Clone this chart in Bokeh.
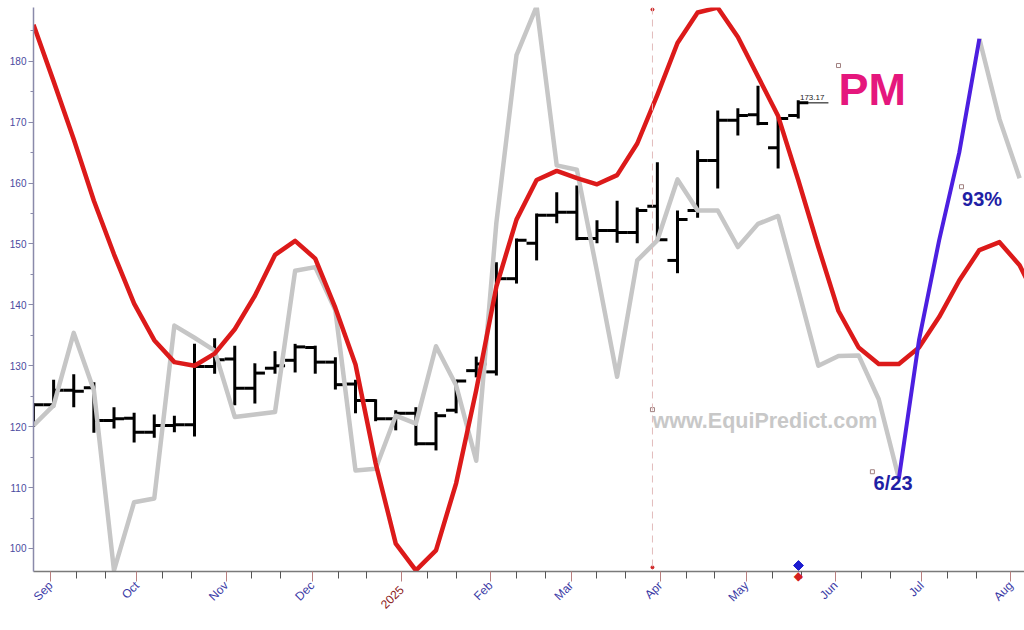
from math import pi
import pandas as pd
from bokeh.plotting import figure
from bokeh.models import (Range1d, FixedTicker, SingleIntervalTicker, Label, Span,
                          LinearAxis)
from bokeh.embed import file_html
from bokeh.resources import INLINE

# ---------------- data ----------------
first_week = "2024-08-26"          # weekly bars, Mondays
opens  = [120.0, 123.6, 126.0, 126.4, 121.0, 121.4, 119.1, 120.2, 120.3, 129.9,
          131.1, 126.3, 129.6, 130.9, 133.0, 130.6, 127.0, 124.3, 121.3, 122.2,
          117.2, 122.7, 129.2, 129.0, 144.3, 150.1, 154.7, 155.2, 150.9, 152.2,
          151.9, 156.2, 147.3, 155.5, 163.7, 170.3, 171.2, 165.8, 171.1]
highs  = [123.8, 127.7, 128.6, 127.3, 123.2, 122.3, 122.0, 121.8, 133.6, 134.5,
          133.3, 130.4, 132.4, 133.6, 133.3, 131.4, 127.7, 124.5, 122.7, 123.2,
          122.4, 127.7, 131.5, 147.0, 150.9, 155.0, 158.5, 159.6, 153.9, 157.1,
          156.0, 163.4, 155.5, 165.4, 171.9, 172.3, 176.0, 170.8, 173.6]
lows   = [120.0, 123.2, 123.2, 119.0, 119.7, 117.4, 118.2, 119.1, 118.4, 128.7,
          123.5, 123.8, 128.7, 128.9, 128.7, 126.1, 122.2, 120.9, 119.4, 116.9,
          116.1, 122.2, 128.1, 128.4, 143.5, 147.3, 153.4, 150.6, 150.1, 150.2,
          150.1, 150.6, 145.2, 154.3, 159.1, 167.8, 169.5, 162.4, 170.6]
closes = [123.6, 126.0, 125.8, 121.0, 121.3, 119.1, 120.2, 120.3, 129.9, 131.0,
          126.3, 128.8, 130.0, 133.1, 130.6, 126.9, 124.3, 121.3, 122.2, 117.2,
          121.8, 127.5, 130.3, 144.3, 150.6, 154.7, 155.2, 150.9, 152.2, 151.9,
          155.5, 150.7, 154.0, 163.7, 170.3, 171.1, 169.8, 170.6, 173.17]
last_close_label = "173.17"

# weekly cycle curve (red)
red_cycle = [186.0, 176.7, 167.2, 157.1, 148.3, 140.2, 134.2, 130.6, 130.0, 132.0,
             136.0, 141.5, 148.2, 150.5, 147.6, 139.5, 130.2, 114.0, 100.8, 96.4,
             99.7, 110.7, 126.0, 143.0, 154.0, 160.5, 162.0, 160.8, 159.8, 161.3,
             166.5, 174.5, 183.0, 188.0, 188.8, 184.0, 177.5, 171.0, 160.5, 149.5,
             139.0, 133.0, 130.3, 130.3, 133.0, 138.0, 144.0, 149.0, 150.3, 146.5,
             140.0]
# weekly projection (gray), part of it highlighted (purple)
gray_proj = [120.2, 123.5, 135.4, 126.0, 96.4, 107.6, 108.2, 136.6, 134.6, 132.5,
             121.6, 122.0, 122.4, 145.6, 146.2, 139.1, 112.8, 113.1, 121.8, 120.5,
             133.2, 126.8, 114.4, 153.5, 181.0, 189.0, 162.9, 162.2, 145.5, 128.2,
             147.3, 150.6, 160.6, 155.5, 155.5, 149.5, 153.3, 154.6, 142.5, 130.0,
             131.6, 131.7, 124.5, 111.5, 134.2, 150.6, 165.0, 183.7, 170.5, 160.8]
purple_start, purple_end = 43, 47   # week indexes of the highlighted leg

month_ticks  = ["2024-09-01", "2024-10-01", "2024-11-01", "2024-12-01", "2025-01-01",
                "2025-02-01", "2025-03-01", "2025-04-01", "2025-05-01", "2025-06-01",
                "2025-07-01", "2025-08-01"]
month_labels = ["Sep", "Oct", "Nov", "Dec", "", "Feb", "Mar", "Apr", "May", "Jun",
                "Jul", "Aug"]
year_tick = "2025-01-01"
year_label = "2025"
signal_day = "2025-05-19 02:00"

# ---------------- helpers ----------------
DAY = 86400000


def ms(s):
    return int(pd.Timestamp(s).value // 1_000_000)


t0 = ms(first_week)
bar_x = [t0 + 7 * DAY * i for i in range(len(opens))]
red_x = [t0 + 7 * DAY * i for i in range(len(red_cycle))]
gray_x = [t0 + 7 * DAY * i for i in range(len(gray_proj))]

major = [ms(s) for s in month_ticks]
minor = []
for y, m in [(2024, 8), (2024, 9), (2024, 10), (2024, 11), (2024, 12), (2025, 1),
             (2025, 2), (2025, 3), (2025, 4), (2025, 5), (2025, 6), (2025, 7), (2025, 8)]:
    for d in (10, 20):
        minor.append(ms(f"{y}-{m:02d}-{d:02d}"))

# ---------------- figure ----------------
p = figure(width=1024, height=630, output_backend="svg", toolbar_location=None,
           x_range=Range1d(ms("2024-08-26"), ms("2025-08-05 16:48")),
           y_range=Range1d(96.22, 188.83),
           min_border_left=33, min_border_right=0, min_border_top=7,
           min_border_bottom=59)
p.outline_line_color = None
p.grid.visible = False
p.background_fill_color = "white"
p.border_fill_color = "white"

# x axis (months)
xa = p.xaxis[0]
xa.ticker = FixedTicker(ticks=major, minor_ticks=minor)
xa.major_label_overrides = {t: lab for t, lab in zip(major, month_labels)}
xa.major_label_orientation = pi / 4
xa.major_label_text_color = "#3b3ba6"
xa.major_label_text_font = "Liberation Sans"
xa.major_label_text_font_size = "12px"
xa.major_label_standoff = 2
xa.axis_line_color = "#7a7a7a"
xa.axis_line_width = 1.5
xa.major_tick_line_color = "#b98080"
xa.major_tick_out = 10
xa.major_tick_in = 0
xa.minor_tick_line_color = "#555555"
xa.minor_tick_out = 7
xa.minor_tick_in = 0

# second axis: the year label in dark red, pulled up beside the month labels
yr = ms(year_tick)
year_axis = LinearAxis(ticker=FixedTicker(ticks=[yr], minor_ticks=[]),
                       major_label_overrides={yr: year_label},
                       major_label_orientation=pi / 4,
                       major_label_text_color="#8b1a1a",
                       major_label_text_font="Liberation Sans",
                       major_label_text_font_size="12px",
                       major_label_standoff=-25,
                       axis_line_color=None, major_tick_line_color=None,
                       minor_tick_line_color=None, major_tick_out=0, major_tick_in=0,
                       minor_tick_out=0, minor_tick_in=0)
p.add_layout(year_axis, "below")

# third axis: red signal diamond just under the axis line
sd = ms(signal_day)
diamond_axis = LinearAxis(ticker=FixedTicker(ticks=[sd], minor_ticks=[]),
                          major_label_overrides={sd: "\u25c6"},
                          major_label_orientation="horizontal",
                          major_label_text_color="#d42020",
                          major_label_text_font="DejaVu Sans",
                          major_label_text_font_size="12px",
                          major_label_standoff=-47,
                          axis_label=" ", axis_label_standoff=30,
                          axis_label_text_font_size="10px",
                          axis_line_color=None, major_tick_line_color=None,
                          minor_tick_line_color=None, major_tick_out=0, major_tick_in=0,
                          minor_tick_out=0, minor_tick_in=0)
p.add_layout(diamond_axis, "below")

# y axis
ya = p.yaxis[0]
ya.ticker = SingleIntervalTicker(interval=10, num_minor_ticks=2)
ya.major_label_text_color = "#4a4aa0"
ya.major_label_text_font = "Liberation Sans"
ya.major_label_text_font_size = "10px"
ya.major_label_standoff = 2
ya.axis_line_color = "#8a8aaa"
ya.axis_line_width = 1.5
ya.major_tick_line_color = "#8a8aaa"
ya.major_tick_out = 5
ya.major_tick_in = 0
ya.minor_tick_line_color = "#8a8aaa"
ya.minor_tick_out = 3
ya.minor_tick_in = 0

# dashed marker line
vline_x = ms("2025-03-29 07:00")
p.add_layout(Span(location=vline_x, dimension="height", line_color="#e2bcbc",
                  line_dash="7 5", line_width=1))
p.scatter([vline_x, vline_x], [188.5, 96.9], size=3, color="#d02020")

# OHLC weekly bars
half = 3.5 * DAY
p.segment(x0=bar_x, y0=lows, x1=bar_x, y1=highs, line_width=3, line_color="black")
p.segment(x0=[x - half for x in bar_x], y0=opens, x1=bar_x, y1=opens,
          line_width=3, line_color="black")
p.segment(x0=bar_x, y0=closes, x1=[x + half for x in bar_x], y1=closes,
          line_width=3, line_color="black")
p.segment(x0=[bar_x[-1]], y0=[closes[-1]], x1=[bar_x[-1] + 10.5 * DAY], y1=[closes[-1]],
          line_width=1, line_color="black")

# gray projection, red cycle, purple leg
p.line(gray_x[:purple_start + 1], gray_proj[:purple_start + 1], line_width=4.5,
       line_color="#c6c6c6", line_join="round")
p.line(gray_x[purple_end:], gray_proj[purple_end:], line_width=4.5,
       line_color="#c6c6c6", line_join="round")
p.line(red_x, red_cycle, line_width=4.5, line_color="#dc1a1a", line_join="round")
p.line(gray_x[purple_start:purple_end + 1], gray_proj[purple_start:purple_end + 1],
       line_width=4, line_color="#4c1fe0", line_join="round")

# small anchor squares
p.scatter([ms("2025-03-29 07:00"), ms("2025-06-02"), ms("2025-07-14 19:00"),
           ms("2025-06-13 19:00")], [122.8, 179.3, 159.4, 112.6],
          marker="square", size=4, line_color="#a08080", fill_color="white",
          line_width=1)

# blue diamond
p.scatter([sd], [97.2], marker="square", angle=pi / 4, size=7, color="#1c1cd0")

# texts
p.add_layout(Label(x=bar_x[-1] + 0.6 * DAY, y=173.56, text=last_close_label,
                   text_color="#222222", text_font="Liberation Sans",
                   text_font_size="8px"))
p.add_layout(Label(x=ms("2025-06-02"), y=171.1, text="PM", text_color="#e5177d",
                   text_font="Liberation Sans", text_font_style="bold",
                   text_font_size="45px"))
p.add_layout(Label(x=ms("2025-07-15"), y=155.5, text="93%", text_color="#1f1fa5",
                   text_font="Liberation Sans", text_font_style="bold",
                   text_font_size="20px"))
p.add_layout(Label(x=ms("2025-06-14 05:00"), y=108.9, text="6/23", text_color="#1f1fa5",
                   text_font="Liberation Sans", text_font_style="bold",
                   text_font_size="20px"))
p.add_layout(Label(x=ms("2025-03-29 07:00"), y=118.9, text="www.EquiPredict.com",
                   text_color="#c8c8c8", text_font="Liberation Sans",
                   text_font_style="bold", text_font_size="21.5px"))

open("out.html", "w").write(file_html(p, INLINE))
